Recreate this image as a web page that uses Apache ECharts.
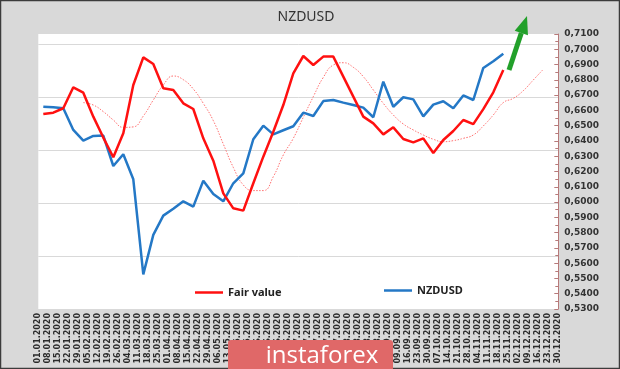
<!DOCTYPE html>
<html>
<head>
<meta charset="utf-8">
<script src="https://cdn.jsdelivr.net/npm/echarts@6/dist/echarts.min.js"></script>
<style>
html,body{margin:0;padding:0;background:#d9d9d9;}
#c{width:620px;height:369px;}
</style>
</head>
<body>
<div id="c"></div>
<script>
// Weekly tick labels
var dates = ['01.01.2020','08.01.2020','15.01.2020','22.01.2020','29.01.2020','05.02.2020','12.02.2020','19.02.2020','26.02.2020','04.03.2020','11.03.2020','18.03.2020','25.03.2020','01.04.2020','08.04.2020','15.04.2020','22.04.2020','29.04.2020','06.05.2020','13.05.2020','20.05.2020','27.05.2020','03.06.2020','10.06.2020','17.06.2020','24.06.2020','01.07.2020','08.07.2020','15.07.2020','22.07.2020','29.07.2020','05.08.2020','12.08.2020','19.08.2020','26.08.2020','02.09.2020','09.09.2020','16.09.2020','23.09.2020','30.09.2020','07.10.2020','14.10.2020','21.10.2020','28.10.2020','04.11.2020','11.11.2020','18.11.2020','25.11.2020','02.12.2020','09.12.2020','16.12.2020','23.12.2020','30.12.2020'];

// Data points sit between the weekly ticks (52 slots)
var slots = dates.slice(0, 52);

var fairValue = [0.6576,0.6585,0.6614,0.6751,0.6716,0.6559,0.6422,0.6293,0.6450,0.6766,0.6947,0.6904,0.6745,0.6734,0.6646,0.6609,0.6417,0.6271,0.6057,0.5959,0.5944,0.6123,0.6297,0.6460,0.6635,0.6843,0.6956,0.6897,0.6952,0.6952,0.6821,0.6690,0.6559,0.6515,0.6443,0.6489,0.6413,0.6391,0.6417,0.6321,0.6406,0.6465,0.6537,0.6510,0.6608,0.6718,0.6864];

var nzdusd = [0.6624,0.6620,0.6614,0.6472,0.6402,0.6433,0.6435,0.6236,0.6313,0.6149,0.5527,0.5785,0.5911,0.5956,0.6005,0.5970,0.6140,0.6053,0.6005,0.6123,0.6188,0.6411,0.6500,0.6443,0.6470,0.6496,0.6585,0.6563,0.6661,0.6668,0.6651,0.6635,0.6618,0.6555,0.6788,0.6624,0.6686,0.6672,0.6561,0.6638,0.6660,0.6614,0.6698,0.6668,0.6878,0.6922,0.6971];

var fairValueAvg = [null,null,null,null,0.6651,0.6635,0.6592,0.6537,0.6489,0.6492,0.6563,0.6668,0.6766,0.6825,0.6801,0.6740,0.6646,0.6533,0.6380,0.6227,0.6112,0.6075,0.6075,0.6166,0.6308,0.6417,0.6555,0.6690,0.6816,0.6897,0.6912,0.6882,0.6821,0.6734,0.6646,0.6570,0.6511,0.6472,0.6439,0.6411,0.6395,0.6402,0.6417,0.6439,0.6498,0.6570,0.6651,0.6679,0.6729,0.6799,0.6869];

var chart = echarts.init(document.getElementById('c'), null, {renderer: 'canvas'});

var gridColors = ['#d9d9d9','#d9d9d9','#d9d9d9','#d9d9d9','#d9d9d9','#d9d9d9','rgba(0,0,0,0)'];

// arrow geometry (decoration)
var tip = [527, 16], dir = [0.316, -0.949], perp = [0.949, 0.316];
var base = [tip[0] - 18 * dir[0], tip[1] - 18 * dir[1]];

chart.setOption({
  backgroundColor: '#d9d9d9',
  animation: false,
  title: {
    text: 'NZDUSD',
    left: 301,
    textAlign: 'center',
    top: 5,
    textStyle: {fontFamily: 'Noto Sans', fontSize: 14, fontWeight: 'normal', color: '#333'}
  },
  legend: [{
    data: ['Fair value'],
    left: 190, top: 282,
    icon: 'rect', itemWidth: 28, itemHeight: 2.5, itemGap: 0,
    textStyle: {fontFamily: 'Noto Sans', fontSize: 11, fontWeight: 'bold', color: '#222'}
  }, {
    data: ['NZDUSD'],
    left: 379, top: 280,
    icon: 'rect', itemWidth: 28, itemHeight: 2.5, itemGap: 0,
    textStyle: {fontFamily: 'Noto Sans', fontSize: 11, fontWeight: 'bold', color: '#222'}
  }],
  grid: {
    left: 38.3, width: 520, top: 34, height: 275,
    show: true, backgroundColor: '#ffffff', borderWidth: 0
  },
  xAxis: [{
    type: 'category',
    data: dates,
    boundaryGap: false,
    position: 'bottom',
    axisLine: {show: false},
    axisTick: {show: false},
    splitLine: {show: false},
    axisLabel: {
      interval: 0, rotate: 90, margin: 4,
      fontFamily: 'DejaVu Sans', fontSize: 8, fontWeight: 'bold', color: '#2a2a2a'
    }
  }, {
    type: 'category',
    data: slots,
    boundaryGap: true,
    position: 'top',
    show: false
  }],
  yAxis: [{
    type: 'value',
    position: 'right',
    min: 0.53, max: 0.71, interval: 0.01,
    axisLine: {show: true, lineStyle: {color: '#b77a7a', width: 1}},
    axisTick: {show: true, inside: true, length: 4, lineStyle: {color: '#b77a7a'}},
    minorTick: {show: true, splitNumber: 2, length: 3, lineStyle: {color: '#b77a7a'}},
    splitLine: {show: false},
    axisLabel: {
      margin: 6,
      fontFamily: 'DejaVu Sans', fontSize: 9, fontWeight: 'bold', color: '#333',
      formatter: function (v) { return v.toFixed(4).replace('.', ','); }
    }
  }, {
    type: 'value',
    position: 'left',
    min: 0, max: 5.19, interval: 1,
    axisLine: {show: false}, axisTick: {show: false}, axisLabel: {show: false},
    splitLine: {show: true, lineStyle: {color: gridColors, width: 1}}
  }],
  series: [{
    name: 'Fair value (avg)',
    type: 'line',
    xAxisIndex: 1, yAxisIndex: 0,
    data: fairValueAvg,
    symbol: 'none', smooth: true,
    lineStyle: {color: '#ff7070', width: 1, type: [1.5, 1.5]},
    itemStyle: {color: '#ff7070'},
    z: 2
  }, {
    name: 'NZDUSD',
    type: 'line',
    xAxisIndex: 1, yAxisIndex: 0,
    data: nzdusd,
    symbol: 'none',
    lineStyle: {color: '#2478c6', width: 2.5},
    itemStyle: {color: '#2478c6'},
    z: 3
  }, {
    name: 'Fair value',
    type: 'line',
    xAxisIndex: 1, yAxisIndex: 0,
    data: fairValue,
    symbol: 'none',
    lineStyle: {color: '#ff1010', width: 2.5},
    itemStyle: {color: '#ff1010'},
    z: 4
  }],
  graphic: [{
    type: 'rect',
    zlevel: 1,
    shape: {x: 0.5, y: 0.5, width: 619, height: 368},
    style: {fill: 'none', stroke: '#3c3c3c', lineWidth: 1.5}
  }, {
    type: 'line',
    zlevel: 1,
    shape: {x1: 509, y1: 70, x2: base[0], y2: base[1]},
    style: {stroke: '#22a02a', lineWidth: 5}
  }, {
    type: 'polygon',
    zlevel: 1,
    shape: {points: [tip, [base[0] + 7 * perp[0], base[1] + 7 * perp[1]], [base[0] - 7 * perp[0], base[1] - 7 * perp[1]]]},
    style: {fill: '#22a02a'}
  }, {
    type: 'rect',
    zlevel: 1,
    shape: {x: 228, y: 340, width: 165, height: 30, r: [3, 3, 0, 0]},
    style: {fill: '#e06868'}
  }, {
    type: 'text',
    zlevel: 1,
    x: 322, y: 356,
    style: {text: 'instaforex', fill: '#ffffff', fontFamily: 'Open Sans', fontSize: 24, align: 'center', verticalAlign: 'middle'}
  }]
});
</script>
</body>
</html>
